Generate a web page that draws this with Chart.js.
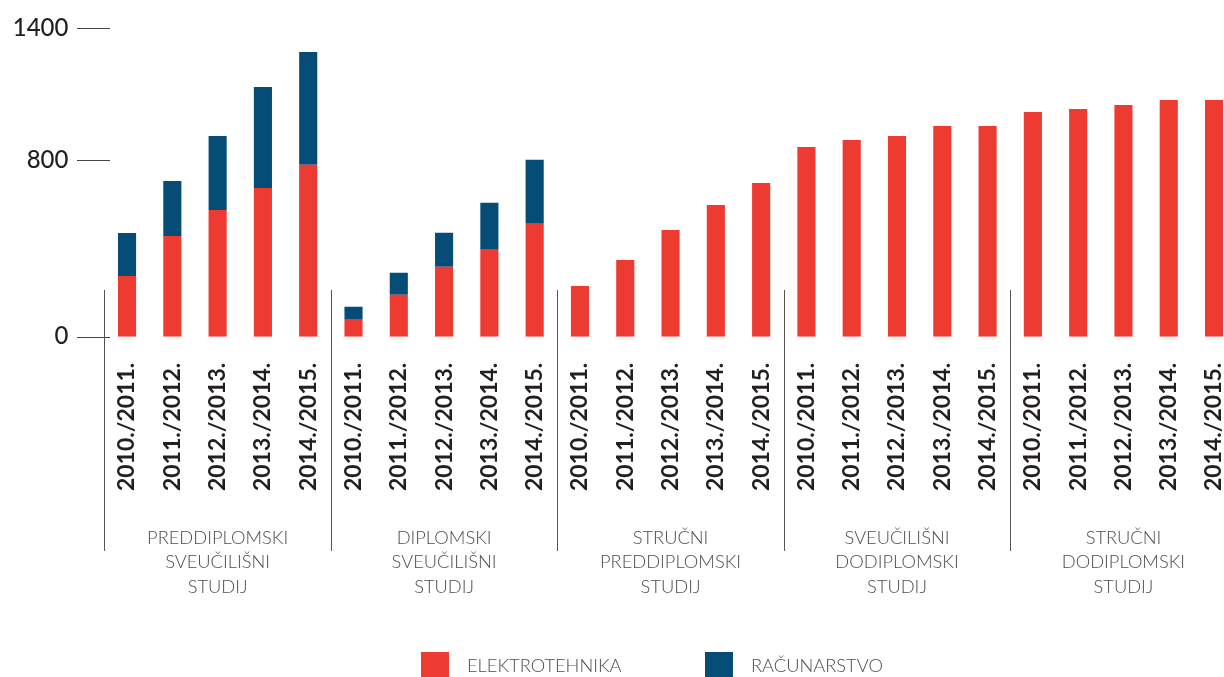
<!DOCTYPE html>
<html>
<head>
<meta charset="utf-8">
<script src="https://cdn.jsdelivr.net/npm/chart.js@4/dist/chart.umd.min.js"></script>
<style>
  html, body { margin: 0; padding: 0; background: #fff; }
  #wrap { width: 1224px; height: 677px; overflow: hidden; }
</style>
</head>
<body>
<div id="wrap"><canvas id="chart" width="1240" height="677"></canvas></div>
<script>
const seasons = ['2010./2011.', '2011./2012.', '2012./2013.', '2013./2014.', '2014./2015.'];
const programs = [
  ['PREDDIPLOMSKI', 'SVEUČILIŠNI', 'STUDIJ'],
  ['DIPLOMSKI', 'SVEUČILIŠNI', 'STUDIJ'],
  ['STRUČNI', 'PREDDIPLOMSKI', 'STUDIJ'],
  ['SVEUČILIŠNI', 'DODIPLOMSKI', 'STUDIJ'],
  ['STRUČNI', 'DODIPLOMSKI', 'STUDIJ'],
];
const elektrotehnika = [276, 457, 575, 675, 781, 77, 191, 318, 395, 513, 230, 348, 484, 598, 698, 861, 893, 911, 956, 956, 1020, 1034, 1052, 1074, 1074];
const racunarstvo = [195, 250, 336, 458, 511, 59, 99, 154, 213, 290, 0, 0, 0, 0, 0, 0, 0, 0, 0, 0, 0, 0, 0, 0, 0];
const yTicks = [0, 800, 1400];
const seriesNames = ['ELEKTROTEHNIKA', 'RAČUNARSTVO'];

const RED = '#ee3b32';
const BLUE = '#054c77';
const TEXT_DARK = '#231f20';
const TEXT_LIGHT = '#4d4d4d';

const labels = programs.flatMap(() => seasons);

function noPadding(scale) {
  scale.paddingTop = 0;
  scale.paddingBottom = 0;
  scale.paddingLeft = 0;
  scale.paddingRight = 0;
}

// tick marks, group dividers, program names, legend
const decorPlugin = {
  id: 'decor',
  afterDraw(chart) {
    const ctx = chart.ctx;
    const x = chart.scales.x;
    const y = chart.scales.y;
    const step = x.getPixelForTick(1) - x.getPixelForTick(0);

    ctx.save();
    ctx.strokeStyle = '#444';
    ctx.lineWidth = 1;
    yTicks.forEach((v) => {
      const py = Math.round(y.getPixelForValue(v)) + 0.5;
      ctx.beginPath();
      ctx.moveTo(77, py);
      ctx.lineTo(110, py);
      ctx.stroke();
    });

    ctx.strokeStyle = '#555';
    for (let g = 0; g < programs.length; g++) {
      const px = Math.round(x.getPixelForTick(g * seasons.length) - step / 2) + 0.5;
      ctx.beginPath();
      ctx.moveTo(px, 290);
      ctx.lineTo(px, 551);
      ctx.stroke();
    }

    ctx.fillStyle = TEXT_LIGHT;
    ctx.font = '300 18.3px Lato';
    ctx.textAlign = 'center';
    ctx.textBaseline = 'middle';
    programs.forEach((lines, g) => {
      const first = x.getPixelForTick(g * seasons.length);
      const last = x.getPixelForTick(g * seasons.length + seasons.length - 1);
      const cx = (first + last) / 2;
      lines.forEach((line, i) => {
        ctx.fillText(line, cx, 538 + i * 24.5);
      });
    });

    // legend
    const legendX = [421, 705];
    [RED, BLUE].forEach((color, i) => {
      ctx.fillStyle = color;
      ctx.fillRect(legendX[i], 652, 28, 26);
      ctx.fillStyle = TEXT_LIGHT;
      ctx.textAlign = 'left';
      ctx.fillText(seriesNames[i], legendX[i] + 46, 666);
    });
    ctx.restore();
  },
};

new Chart(document.querySelector('#chart'), {
  type: 'bar',
  data: {
    labels,
    datasets: [
      { label: seriesNames[0], data: elektrotehnika, backgroundColor: RED },
      { label: seriesNames[1], data: racunarstvo, backgroundColor: BLUE },
    ],
  },
  options: {
    responsive: false,
    animation: false,
    events: [],
    layout: { padding: { top: 28.3, right: 3.3, left: 0, bottom: 0 } },
    datasets: { bar: { barPercentage: 0.4, categoryPercentage: 1 } },
    plugins: { legend: { display: false }, tooltip: { enabled: false } },
    scales: {
      x: {
        stacked: true,
        grid: { display: false, drawTicks: false },
        border: { display: false },
        ticks: {
          autoSkip: false,
          minRotation: 90,
          maxRotation: 90,
          padding: 26,
          color: TEXT_DARK,
          font: { family: 'Lato', size: 23, weight: 'bold' },
        },
        afterFit(scale) {
          scale.height = 340.3;
          noPadding(scale);
        },
      },
      y: {
        stacked: true,
        min: 0,
        max: 1400,
        grid: { display: false, drawTicks: false },
        border: { display: false },
        afterBuildTicks(scale) { scale.ticks = yTicks.map((value) => ({ value })); },
        ticks: {
          padding: 36,
          color: TEXT_DARK,
          font: { family: 'Lato', size: 24, weight: '500' },
          callback: (value) => String(value),
        },
        afterFit(scale) {
          scale.width = 104.4;
          noPadding(scale);
        },
      },
    },
  },
  plugins: [decorPlugin],
});
</script>
</body>
</html>
